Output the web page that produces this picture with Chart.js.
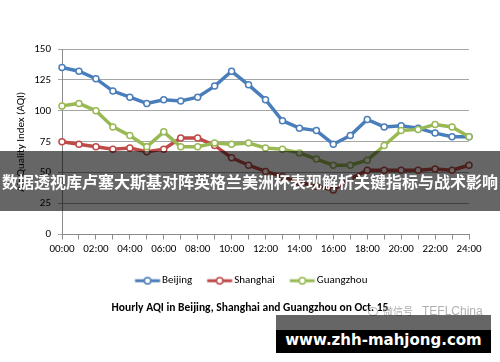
<!DOCTYPE html>
<html>
<head>
<meta charset="utf-8">
<script src="https://cdn.jsdelivr.net/npm/chart.js@4.4.1/dist/chart.umd.min.js"></script>
<style>
  body { margin: 0; background: #fff; }
  #wrap { position: relative; width: 500px; height: 362px; overflow: hidden; }
  #banner {
    position: absolute; left: 0; top: 151px; width: 500px; height: 60px;
    background: rgba(0, 0, 0, 0.6); color: #fff;
    font: bold 16px "Noto Sans CJK SC", sans-serif;
    line-height: 60px; text-align: center; white-space: nowrap;
  }
  #wechat {
    position: absolute; left: 368px; top: 301px; height: 16px;
    color: rgba(150, 150, 150, 0.75); white-space: nowrap;
  }
  #wechat .icon {
    display: inline-block; width: 8px; height: 7px; margin-right: 5px;
    border: 1px solid rgba(150, 150, 150, 0.75); border-radius: 50%;
    vertical-align: -1px;
  }
  #wechat .cn { font: 10px "Noto Sans CJK SC", sans-serif; }
  #wechat .en { font: 12px "Liberation Sans", sans-serif; margin-left: 9px; }
  #siteGray { position: absolute; left: 276px; top: 315px; width: 215px; height: 15px; background: rgba(0, 0, 0, 0.6); }
  #siteBox {
    position: absolute; left: 276px; top: 330px; width: 215px; height: 23px;
    background: #000; color: #fff; text-align: center;
    font: bold 15px "DejaVu Sans", sans-serif; line-height: 21px;
  }
</style>
</head>
<body>
<div id="wrap">
  <canvas id="aqiChart" width="500" height="362"></canvas>
  <div id="banner">数据透视库卢塞大斯基对阵英格兰美洲杯表现解析关键指标与战术影响</div>
  <div id="wechat"><span class="icon"></span><span class="cn">微信号</span><span class="en">TEFLChina</span></div>
  <div id="siteGray"></div>
  <div id="siteBox">www.zhh-mahjong.com</div>
</div>
<script>
// Hourly AQI data, Oct. 15
const hours = ['00:00', '01:00', '02:00', '03:00', '04:00', '05:00', '06:00', '07:00', '08:00',
  '09:00', '10:00', '11:00', '12:00', '13:00', '14:00', '15:00', '16:00', '17:00', '18:00',
  '19:00', '20:00', '21:00', '22:00', '23:00', '24:00'];
const beijing = [135, 132, 126, 116, 111, 106, 109, 108, 111, 120, 132, 121, 109, 92, 86, 84, 73, 80, 93, 87, 88, 86, 82, 79, 79];
const shanghai = [75, 73, 71, 69, 70, 67, 69, 78, 78, 72, 62, 56, 51, 47, 42, 39, 36, 45, 52, 52, 52, 52, 53, 52, 56];
const guangzhou = [104, 106, 100, 87, 80, 71, 83, 71, 71, 74, 73, 74, 70, 69, 66, 61, 56, 56, 60, 72, 84, 85, 89, 87, 79];
const cityNames = ['Beijing', 'Shanghai', 'Guangzhou'];
const cityColors = ['#4a7ebb', '#be4b48', '#98b954'];
const yTicks = { min: 0, max: 150, step: 25 };

const baseFont = { family: 'Carlito, "Liberation Sans", sans-serif', size: 11 };

// legend marker: short line with an open circle, drawn in the right half
// of the image so the text sits right after it
function legendMarker(color) {
    const c = document.createElement('canvas');
    c.width = 48;
    c.height = 10;
    const ctx = c.getContext('2d');
    ctx.strokeStyle = color;
    ctx.lineWidth = 3;
    ctx.beginPath();
    ctx.moveTo(14.5, 5);
    ctx.lineTo(39.5, 5);
    ctx.stroke();
    ctx.fillStyle = '#fff';
    ctx.lineWidth = 1.5;
    ctx.beginPath();
    ctx.arc(27, 5, 3.2, 0, Math.PI * 2);
    ctx.fill();
    ctx.stroke();
    return c;
}

function makeSeries(i, values, order) {
    return {
        label: cityNames[i],
        data: values,
        borderColor: cityColors[i],
        backgroundColor: cityColors[i],
        borderWidth: 3.5,
        pointRadius: 3,
        pointBorderWidth: 1.5,
        pointBackgroundColor: '#fff',
        pointBorderColor: cityColors[i],
        tension: 0,
        order: order
    };
}

new Chart(document.getElementById('aqiChart'), {
    type: 'line',
    data: {
        labels: hours,
        datasets: [
            makeSeries(0, beijing, 3),
            makeSeries(1, shanghai, 2),
            makeSeries(2, guangzhou, 1)
        ]
    },
    options: {
        responsive: false,
        animation: false,
        devicePixelRatio: 1,
        layout: { padding: { left: 10, right: 10, top: 49, bottom: 0 } },
        plugins: {
            tooltip: { enabled: false },
            legend: {
                position: 'bottom',
                labels: {
                    usePointStyle: true,
                    pointStyleWidth: 24,
                    padding: 12.5,
                    color: '#000',
                    font: baseFont,
                    generateLabels: chart => chart.data.datasets.map((ds, i) => ({
                        text: ds.label,
                        pointStyle: legendMarker(cityColors[i]),
                        fontColor: '#000',
                        lineWidth: 0,
                        hidden: false,
                        datasetIndex: i
                    }))
                }
            },
            title: {
                display: true,
                position: 'bottom',
                text: 'Hourly AQI in Beijing, Shanghai and Guangzhou on Oct. 15',
                color: '#000',
                font: { family: baseFont.family, size: 11.5, weight: 'bold' },
                padding: { top: 5, bottom: 47 }
            }
        },
        scales: {
            x: {
                offset: false,
                grid: { drawOnChartArea: false, drawTicks: true, tickLength: 5, color: '#8c8c8c' },
                border: { color: '#8c8c8c' },
                ticks: {
                    autoSkip: false,
                    maxRotation: 0,
                    padding: 3,
                    color: '#000',
                    font: baseFont,
                    callback: (v, i) => (i % 2 === 0 ? hours[i] : '')
                },
                // a little extra room between the hour labels and the legend
                afterFit: scale => { scale.height += 4; }
            },
            y: {
                min: yTicks.min,
                max: yTicks.max,
                grid: { color: '#a6a6a6', tickLength: 4 },
                border: { color: '#8c8c8c' },
                ticks: { stepSize: yTicks.step, padding: 7, color: '#000', font: baseFont },
                title: {
                    display: true,
                    text: 'Air Quality Index (AQI)',
                    color: '#000',
                    font: baseFont,
                    padding: { top: 5, bottom: 0 }
                },
                afterFit: scale => { scale.width = 52; }
            },
            // empty spacer on the right so legend and title centre on the page
            spacer: {
                type: 'linear',
                position: 'right',
                grid: { display: false },
                border: { display: false },
                ticks: { display: false },
                afterFit: scale => { scale.width = 21; }
            }
        }
    }
});
</script>
</body>
</html>
